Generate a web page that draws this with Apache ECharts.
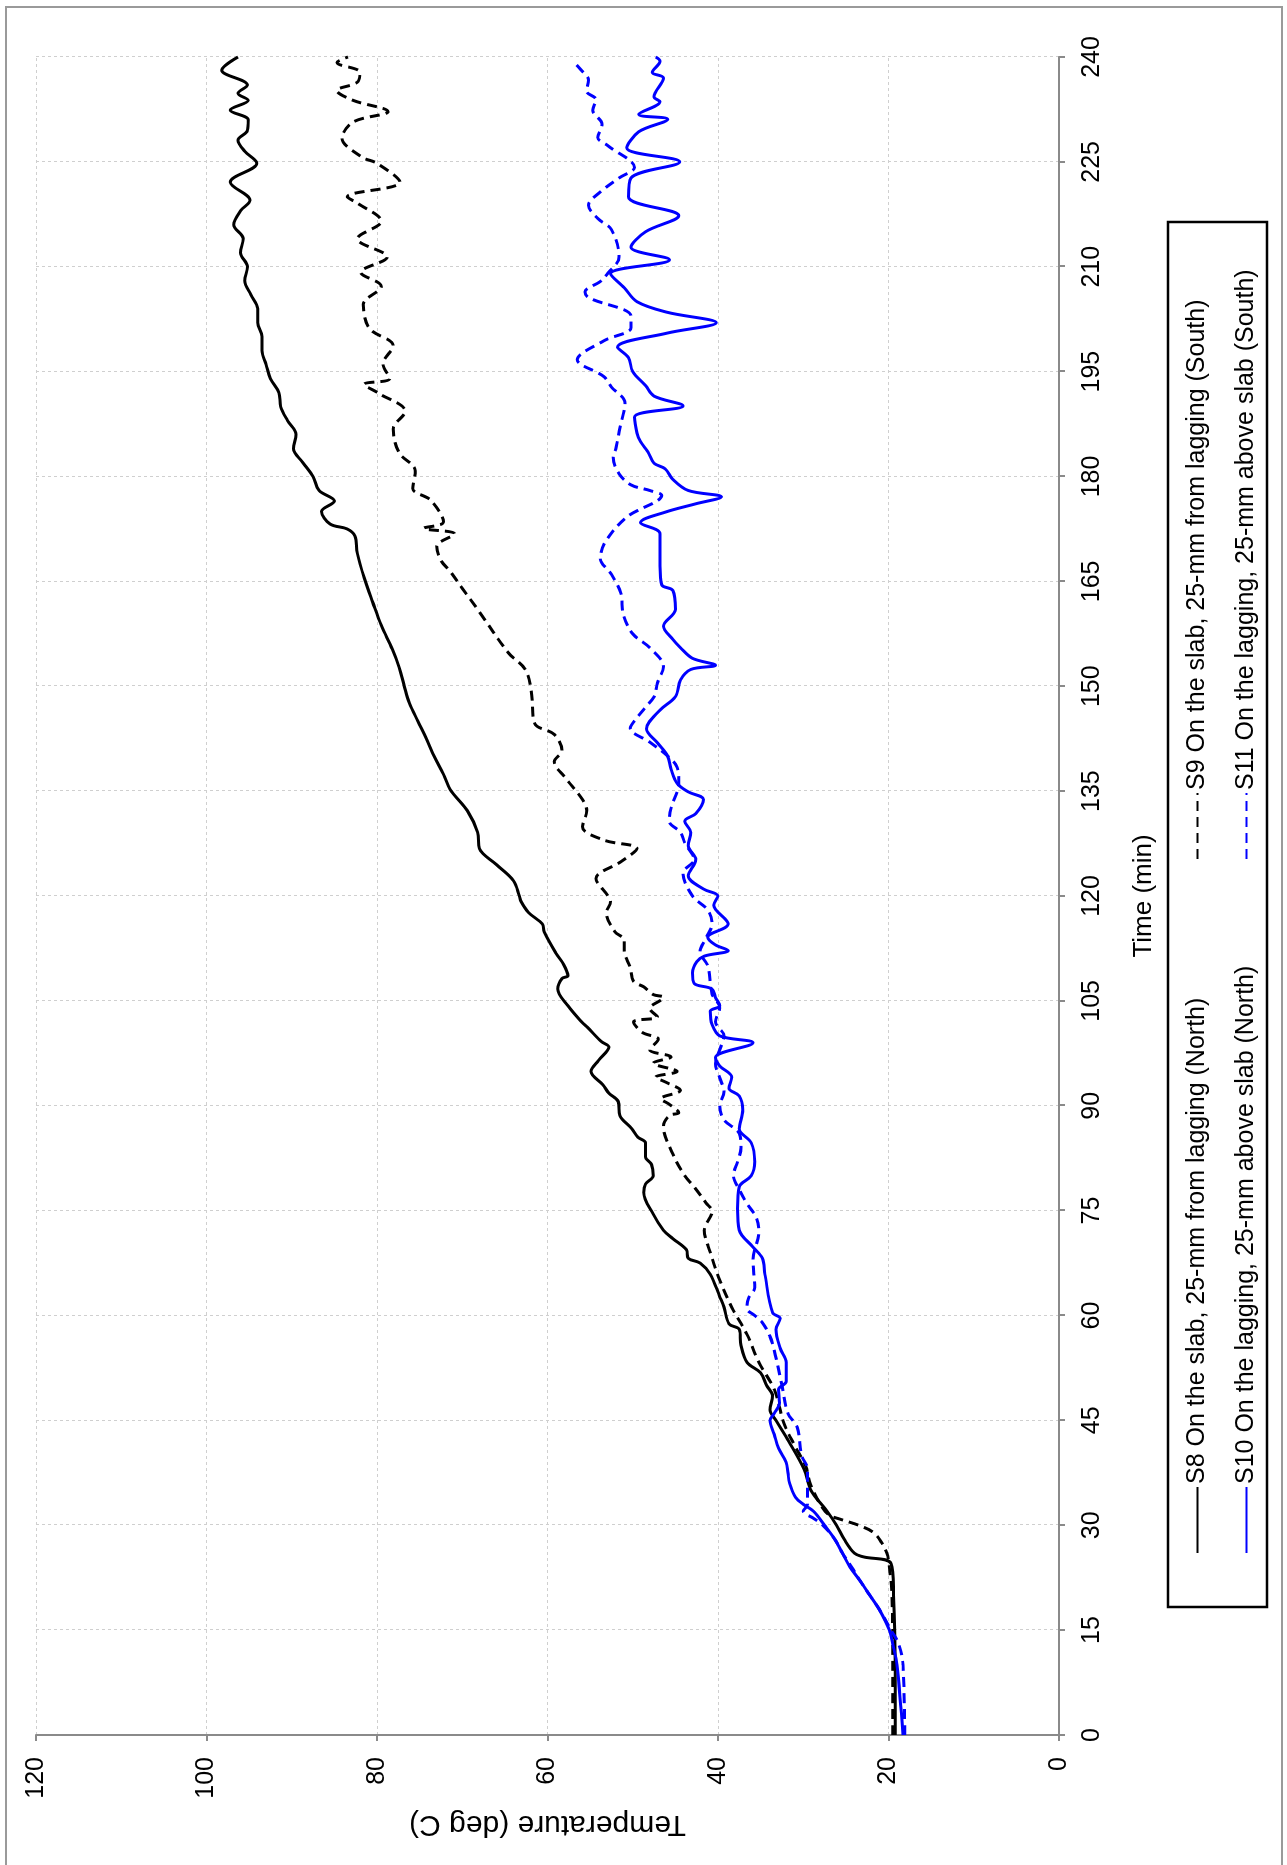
<!DOCTYPE html>
<html>
<head>
<meta charset="utf-8">
<script src="https://cdn.jsdelivr.net/npm/echarts@6/dist/echarts.min.js"></script>
<style>
html,body{margin:0;padding:0;background:#fff;width:1287px;height:1865px;overflow:hidden;}
#chart{position:absolute;left:0;top:0;width:1865px;height:1287px;transform-origin:0 0;transform:translate(0,1865px) rotate(-90deg);background:#fff;}
</style>
</head>
<body>
<div id="chart"></div>
<script>
const seriesNames = [
  'S8 On the slab, 25-mm from lagging (North)',
  'S9 On the slab, 25-mm from lagging (South)',
  'S10 On the lagging, 25-mm above slab (North)',
  'S11 On the lagging, 25-mm above slab (South)'
];
const timeTicks = [0,15,30,45,60,75,90,105,120,135,150,165,180,195,210,225,240];
const tempTicks = [0,20,40,60,80,100,120];

// [time (min), temperature (deg C)]
const s8 = [[0,19.2],[10,19.2],[20,19.4],[24.5,19.7],[25.5,23.0],[26,24.0],[28,25.2],[30,26.1],[32,27.2],[35,29.1],[38,29.9],[42,31.7],[45,33.2],[46.5,33.9],[48.5,33.6],[50,34.3],[51.8,35.0],[53.3,36.6],[55.7,37.3],[58,37.5],[58.8,38.7],[61.2,39.3],[62.7,39.8],[65.9,40.9],[67.5,42.1],[68.2,43.5],[69.4,43.7],[71,45.3],[72.2,46.4],[74.5,47.6],[77.6,48.7],[78.8,48.5],[80,47.6],[81.6,47.8],[82.7,48.5],[84.7,48.5],[85.5,49.4],[86.7,50.1],[88.6,51.5],[90.6,51.7],[91.8,52.8],[93,53.5],[94.9,54.9],[96.5,54.0],[98.4,52.8],[99.2,53.7],[101.2,55.3],[102,56.0],[104.3,57.6],[106.7,58.8],[108.2,58.3],[108.6,57.6],[110.2,58.1],[111.8,59.0],[114.9,60.4],[116,60.6],[117.6,62.2],[119.2,63.1],[120,63.3],[122.2,64.0],[124.5,66.0],[126.8,68.0],[129.1,68.2],[132.2,69.4],[135.2,71.4],[137.4,72.2],[140,73.3],[142.5,74.2],[145,75.2],[147.6,76.2],[150,76.8],[152.7,77.4],[155.3,78.2],[158.7,79.5],[162,80.5],[165.5,81.5],[169,82.3],[171.5,82.6],[172.5,83.5],[173.2,85.5],[175,86.5],[176.5,85.0],[178,86.8],[180,87.5],[182,88.7],[184,89.8],[186,89.5],[188,90.5],[190,91.3],[192,91.5],[194,92.5],[196,93.0],[198,93.5],[200,93.5],[202,94.0],[204,94.0],[206,94.8],[208,95.5],[210,95.2],[212,96.0],[214,95.7],[216,96.8],[218,96.0],[219.5,94.9],[222.1,97.2],[224.8,94.1],[226.5,95.5],[228.1,96.3],[229.5,95.2],[231,95.1],[232.4,97.2],[233.8,95.1],[234.8,96.3],[236,95.2],[238.1,98.2],[240,96.3]];

const s9 = [[0,19.5],[10,19.5],[20,19.6],[25,20.0],[26,20.2],[27.5,20.8],[29,21.8],[30,23.5],[30.8,25.5],[31.5,27.0],[33,28.0],[36,29.2],[38.4,29.7],[41.6,31.1],[44.7,32.3],[49.4,33.4],[53.3,35.2],[57.3,36.6],[61.2,38.4],[65.1,39.8],[69,40.9],[72.2,41.6],[74.9,40.7],[76.1,41.4],[78.4,42.8],[80,43.9],[83.1,45.3],[87.1,46.4],[88.6,45.7],[89,44.6],[90.2,45.7],[91,46.7],[92.2,44.4],[93.3,46.0],[94.1,47.3],[94.9,44.8],[96.1,47.6],[97,45.5],[98,48.0],[99.5,47.0],[100.5,48.9],[102,49.9],[102.7,47.1],[103.9,48.0],[105.5,46.4],[105.9,47.6],[107,48.7],[107.8,49.9],[109.8,50.3],[112.2,51.0],[113.7,51.0],[114.9,52.1],[117.6,53.1],[119.2,52.6],[120,52.9],[122.5,54.3],[124.9,51.4],[126.8,49.5],[128,53.4],[129.9,55.9],[132.2,55.4],[133.8,55.9],[136.9,57.9],[139.2,59.2],[140.8,58.3],[143.1,59.2],[144.7,61.5],[149.3,61.9],[152.4,62.6],[154.8,64.6],[161,68.2],[164,70],[166.4,71.4],[168,72.5],[170,73],[171.8,70.9],[172.6,74.5],[173.5,72.2],[176.6,73.7],[178.3,75.8],[180.8,75.5],[183.4,77.4],[186.8,78.1],[189.3,76.7],[191.9,79.8],[193.2,81.5],[194,78.5],[196.1,79.3],[198.7,78.1],[201.2,80.9],[204.6,81.6],[207.2,79.5],[209.2,81.9],[211.4,78.8],[214,82.3],[216.5,79.5],[219.1,82.3],[220,83.5],[222.1,77.3],[224.8,80],[225.7,81.8],[228.4,84.1],[230.7,82.8],[232.2,78.7],[233.8,82.8],[235.2,84.7],[236.4,82.3],[237.8,82],[239.2,84.7],[240,83.4]];

const s10 = [[0,18.3],[10,19.0],[13,19.5],[15,19.9],[18,21.1],[20,22.2],[22,23.3],[24,24.5],[26,25.4],[28,26.3],[30,27.5],[32,28.8],[33,30.0],[34,30.9],[36,31.6],[37.5,31.8],[39,32.0],[41,32.9],[43,33.4],[45,33.9],[46,33.4],[47.5,32.8],[49.4,32.9],[50.6,32.0],[53.3,32.0],[55.3,32.7],[58,33.2],[59.6,32.7],[60.4,33.6],[65.9,34.5],[68.2,34.8],[69.8,35.9],[72.2,37.5],[75.3,37.7],[78.4,37.5],[80,36.1],[82,35.7],[84.7,36.1],[86.7,37.5],[89.4,37.1],[91.4,37.5],[92.5,38.7],[94.1,38.4],[95.7,39.8],[96.9,40.3],[99,35.9],[100,39.8],[101.6,40.7],[103.5,40.9],[104.3,39.8],[105.5,40.3],[106.7,40.7],[107.5,42.8],[109,43.0],[110.6,42.5],[111.4,41.6],[112.2,38.8],[113,40.3],[114.1,41.2],[116,38.8],[118.7,40.5],[120,40.0],[121,41.7],[122.9,43.5],[125.2,42.6],[127.2,43.5],[129.1,43.2],[130.7,43.9],[131.8,42.6],[133.8,41.7],[134.9,43.5],[136.1,44.8],[138.1,45.5],[140,45.9],[141.9,47.1],[143.9,48.4],[146.6,46.8],[148.5,45.0],[150.9,44.4],[152.4,43.2],[153,40.3],[154,43.0],[155.5,44.4],[156.7,45.3],[158.6,46.4],[161,45.0],[163.7,45.3],[164.5,46.6],[167.2,46.8],[171.8,46.8],[173.4,49.1],[174.9,46.2],[176.1,42.6],[177.1,39.6],[178,43.5],[179.6,45.3],[181.1,46.2],[181.9,47.5],[183.5,48.2],[185,49.1],[186.2,49.5],[188.5,49.8],[190.1,44.1],[191.5,47.5],[193,48.5],[195,50.0],[197,50.5],[198.5,51.8],[200.5,46.0],[202,40.2],[203.5,46.0],[205,49.5],[207,51.0],[209,52.6],[211,45.7],[212.8,50.2],[215,48.5],[217.3,44.6],[220,50.5],[222.7,50.2],[225,44.5],[227,50.7],[229.3,49.3],[231.1,45.9],[231.8,49.3],[233.6,46.8],[234.3,47.5],[237,46.4],[237.8,47.7],[239.4,46.8],[240,47.3]];

const s11 = [[0,18.1],[10,18.3],[13,18.8],[15,19.7],[18,21.1],[20,22.2],[22,23.3],[24,24.3],[26,25.4],[28,26.3],[30,27.7],[31,28.8],[32,30.0],[33,29.5],[38,29.5],[40,30.2],[44,30.7],[46,31.8],[50,32.5],[55,33.4],[57,33.9],[59,34.8],[60,35.7],[61,36.6],[62.5,36.4],[64,35.7],[68,35.9],[72,35.2],[74,35.5],[76,36.6],[78,37.5],[80,38.2],[82,37.7],[84,37.3],[86,37.5],[88,39.3],[90,39.8],[92,39.3],[94,39.8],[96,40.3],[98,39.8],[100,39.3],[102,40.3],[104,39.8],[106,40.7],[110,41.2],[112,42.1],[114,41.4],[116,40.7],[118,41.2],[120,43.0],[123.3,44.1],[125.2,42.8],[127.6,43.9],[129.1,44.4],[130.7,45.7],[132.6,45.5],[136.1,44.6],[138.4,44.8],[140,45.9],[142,48.0],[144,50.3],[145.5,49.5],[147,48.5],[148.5,47.5],[150.5,47.1],[152.8,46.4],[155.5,48.0],[157.5,50.0],[160.2,51.1],[163.3,51.4],[166,52.5],[168.3,53.8],[170.7,53.2],[174.2,50.7],[177.3,46.6],[178,48.0],[178.8,50.2],[180.4,51.6],[182.7,52.3],[183.9,52.0],[187,51.5],[190.5,50.9],[192.8,52.5],[194.3,53.4],[196.7,56.5],[199.4,53.4],[201.3,50.2],[202.9,50.2],[205.6,55.2],[206.4,55.6],[207.9,53.8],[209.1,52.9],[211.4,51.6],[215.3,52.5],[216.9,54.1],[218.8,55.2],[220.7,53.8],[222.7,51.6],[224.2,49.8],[227.3,52.9],[228.5,54.1],[230.4,53.6],[232.4,54.7],[233.9,54.3],[235.1,55.4],[236.7,55.2],[238.2,56.1],[239.4,57.0]];

const FONT = "'Liberation Sans', Arial, sans-serif";
const chart = echarts.init(document.getElementById('chart'), null, {renderer:'canvas'});

function mkSeries(name, data, color, dashed){
  return {
    name: name, type: 'line', data: data, symbol: 'none', smooth: 0.35,
    lineStyle: {color: color, width: 3, type: dashed ? [10,6] : 'solid'},
    itemStyle: {color: color}, z: 3
  };
}
const axisGrey = '#8a8a8a';
const legendCommon = {
  orient: 'vertical', top: 1180, itemGap: 24, itemWidth: 66, itemHeight: 14,
  itemStyle: {opacity: 0, borderWidth: 0},
  textStyle: {fontSize: 25, color: '#000', fontFamily: FONT, padding: [0,0,0,-2]}
};
chart.setOption({
  animation: false,
  backgroundColor: '#fff',
  textStyle: {fontFamily: FONT},
  grid: {left: 130, right: 57, top: 36, bottom: 228, containLabel: false},
  xAxis: {
    type: 'value', min: 0, max: 240, interval: 15,
    name: 'Time (min)', nameLocation: 'middle', nameGap: 72,
    nameTextStyle: {fontSize: 26, color: '#000', fontFamily: FONT},
    axisLine: {show: true, onZero: false, lineStyle: {color: axisGrey, width: 2}},
    axisTick: {show: true, inside: false, length: 6, lineStyle: {color: axisGrey, width: 2}},
    axisLabel: {fontSize: 25, color: '#000', margin: 21, fontFamily: FONT,
      formatter: function(v){ return timeTicks.indexOf(v) >= 0 ? String(v) : ''; }},
    splitLine: {show: true, lineStyle: {color: '#cfcfcf', width: 1, type: [3,3]}}
  },
  yAxis: {
    type: 'value', min: 0, max: 120, interval: 20,
    name: 'Temperature (deg C)', nameLocation: 'middle', nameGap: 72, nameRotate: 90,
    nameTextStyle: {fontSize: 30, color: '#000', fontFamily: FONT},
    axisLine: {show: true, onZero: false, lineStyle: {color: axisGrey, width: 2}},
    axisTick: {show: true, inside: false, length: 6, lineStyle: {color: axisGrey, width: 2}},
    axisLabel: {fontSize: 25, color: '#000', margin: 22, fontFamily: FONT,
      formatter: function(v){ return tempTicks.indexOf(v) >= 0 ? String(v) : ''; }},
    splitLine: {show: true, lineStyle: {color: '#cfcfcf', width: 1, type: [3,3]}}
  },
  legend: [
    Object.assign({data: [seriesNames[0], seriesNames[2]], left: 306}, legendCommon),
    Object.assign({data: [seriesNames[1], seriesNames[3]], left: 1000}, legendCommon)
  ],
  graphic: [
    {type: 'rect', shape: {x: 258, y: 1168, width: 1385, height: 99},
     style: {fill: null, stroke: '#000', lineWidth: 2.5}, silent: true},
    {type: 'rect', shape: {x: -5, y: 6, width: 1863, height: 1276},
     style: {fill: null, stroke: '#9a9a9a', lineWidth: 2}, silent: true}
  ],
  series: [
    mkSeries(seriesNames[0], s8, '#000000', false),
    mkSeries(seriesNames[1], s9, '#000000', true),
    mkSeries(seriesNames[2], s10, '#0000ff', false),
    mkSeries(seriesNames[3], s11, '#0000ff', true)
  ]
});
</script>
</body>
</html>
